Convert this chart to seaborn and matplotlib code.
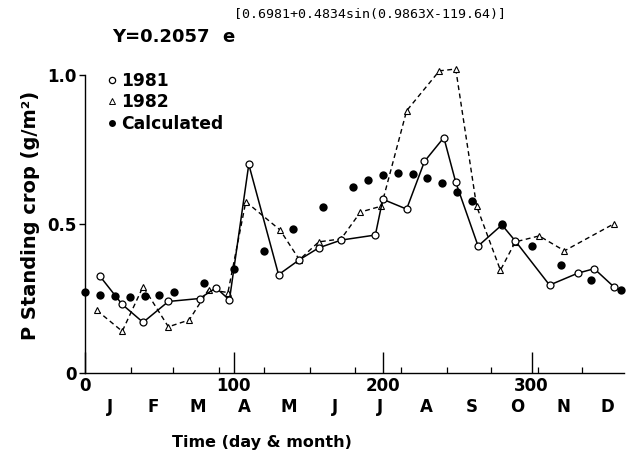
import matplotlib
matplotlib.use("Agg")
import matplotlib.pyplot as plt
from matplotlib.lines import Line2D
import pandas as pd
import seaborn as sns

# Phosphorus standing crop, measured 1981 and 1982, and the fitted curve
day_1981 = [10, 25, 39, 56, 77, 88, 97, 110, 130, 144, 157, 172, 195, 200, 216,
            228, 241, 249, 264, 280, 289, 312, 331, 342, 355]
p_1981 = [0.325, 0.23, 0.17, 0.24, 0.25, 0.286, 0.245, 0.70, 0.33, 0.38, 0.42,
          0.446, 0.463, 0.583, 0.55, 0.71, 0.79, 0.64, 0.426, 0.497, 0.443,
          0.295, 0.335, 0.35, 0.29]

day_1982 = [8, 25, 39, 56, 70, 83, 96, 108, 131, 144, 157, 172, 185, 199, 216,
            238, 249, 263, 279, 289, 305, 322, 355]
p_1982 = [0.21, 0.14, 0.29, 0.155, 0.178, 0.28, 0.27, 0.575, 0.48, 0.38, 0.44,
          0.45, 0.54, 0.56, 0.88, 1.014, 1.02, 0.56, 0.345, 0.44, 0.46, 0.41,
          0.50]

day_calc = [0, 10, 20, 30, 40, 50, 60, 80, 100, 120, 140, 160, 180, 190, 200,
            210, 220, 230, 240, 250, 260, 280, 300, 320, 340, 360]
p_calc = [0.272, 0.262, 0.257, 0.255, 0.257, 0.262, 0.272, 0.302, 0.348, 0.409,
          0.482, 0.557, 0.623, 0.647, 0.663, 0.670, 0.668, 0.656, 0.636, 0.609,
          0.576, 0.501, 0.427, 0.362, 0.312, 0.278]

month_labels = ["J", "F", "M", "A", "M", "J", "J", "A", "S", "O", "N", "D"]
month_mid = [17, 46, 76, 107, 137, 168, 198, 229, 260, 290, 321, 351]
month_edges = [31, 59, 90, 120, 151, 181, 212, 243, 273, 304, 334]
legend_labels = ["1981", "1982", "Calculated"]

sns.set_style("ticks")
plt.rcParams["font.family"] = ["DejaVu Sans"]
plt.rcParams["font.weight"] = "bold"
for key in ("text.color", "axes.labelcolor", "xtick.color", "ytick.color",
            "axes.edgecolor"):
    plt.rcParams[key] = "black"

W, H = 626, 468
fig = plt.figure(figsize=(W / 100, H / 100), dpi=100)
ax = fig.add_axes([85 / W, 95 / H, 539 / W, 298 / H])

df81 = pd.DataFrame({"day": day_1981, "p": p_1981})
df82 = pd.DataFrame({"day": day_1982, "p": p_1982})
dfc = pd.DataFrame({"day": day_calc, "p": p_calc})

sns.lineplot(data=df82, x="day", y="p", ax=ax, color="black", lw=1.0,
             linestyle=(0, (3.5, 2.5)), marker="^", markersize=4.5,
             markerfacecolor="white", markeredgecolor="black",
             markeredgewidth=0.8, zorder=2, clip_on=False)
sns.lineplot(data=df81, x="day", y="p", ax=ax, color="black", lw=1.1,
             marker="o", markersize=5, markerfacecolor="white",
             markeredgecolor="black", markeredgewidth=0.9, zorder=3,
             clip_on=False)
sns.scatterplot(data=dfc, x="day", y="p", ax=ax, color="black", s=36,
                linewidth=0, zorder=4, clip_on=False)

ax.set_xlim(0, 362)
ax.set_ylim(0, 1.0)
ax.set_xlabel("")
ax.set_ylabel("")
sns.despine(ax=ax)
for sp in ax.spines.values():
    sp.set_linewidth(1.0)
    sp.set_color("black")

ax.set_xticks([0, 100, 200, 300])
ax.set_xticklabels(["0", "100", "200", "300"])
ax.set_xticks(month_edges, minor=True)
ax.tick_params(axis="x", which="major", direction="in", length=15, width=1.0,
               pad=3, labelsize=12, colors="black")
ax.tick_params(axis="x", which="minor", direction="in", length=4, width=0.9,
               colors="black")
ax.set_yticks([0, 0.5, 1.0])
ax.set_yticklabels(["0", "0.5", "1.0"])
ax.tick_params(axis="y", which="major", direction="out", length=4, width=1.0,
               pad=2, labelsize=12, colors="black")
for lab in ax.get_xticklabels() + ax.get_yticklabels():
    lab.set_fontweight("bold")

xt = ax.get_xaxis_transform()
for m, lab in zip(month_mid, month_labels):
    ax.text(m, -0.115, lab, transform=xt, ha="center", va="center",
            fontsize=12, fontweight="bold", color="black")

fig.text(262 / W, 1 - 442 / H, "Time (day & month)", ha="center",
         va="center", fontsize=11.5, fontweight="bold", color="black")
fig.text(31 / W, 1 - 215 / H, "P Standing crop (g/m²)", rotation=90,
         ha="center", va="center", fontsize=14, fontweight="bold",
         color="black")

# Fitted equation
fig.text(112 / W, 1 - 42 / H, "Y=0.2057", ha="left", va="baseline",
         fontsize=13, fontweight="bold", color="black")
fig.text(222 / W, 1 - 42 / H, "e", ha="left", va="baseline",
         fontsize=13, fontweight="bold", color="black")
fig.text(234 / W, 1 - 18 / H, "[0.6981+0.4834sin(0.9863X-119.64)]",
         ha="left", va="baseline", fontsize=9.5, family="DejaVu Sans Mono",
         fontweight="normal", color="black")

handles = [
    Line2D([], [], ls="none", marker="o", ms=4.5, mfc="white", mec="black",
           mew=0.9),
    Line2D([], [], ls="none", marker="^", ms=3.8, mfc="white", mec="black",
           mew=0.7),
    Line2D([], [], ls="none", marker="o", ms=5, mfc="black", mec="black",
           mew=0),
]
ax.legend(handles, legend_labels, loc="upper left",
          bbox_to_anchor=(107 / W, 1 - 72 / H), bbox_transform=fig.transFigure,
          frameon=False, borderpad=0, borderaxespad=0, handlelength=0.6,
          handletextpad=0.25, labelspacing=0.2,
          prop={"size": 12.3, "weight": "bold"})

fig.savefig("out.png", dpi=100)
